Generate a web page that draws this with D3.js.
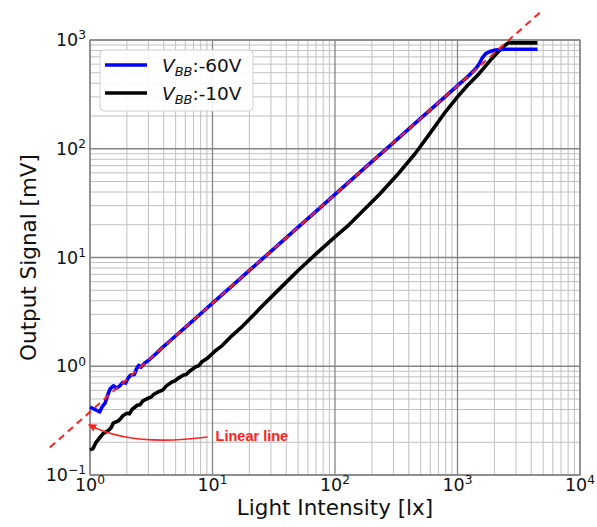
<!DOCTYPE html>
<html>
<head>
<meta charset="utf-8">
<script src="https://cdn.jsdelivr.net/npm/d3@7"></script>
<style>
  html, body { margin: 0; padding: 0; background: #fff; }
  svg { display: block; font-family: "DejaVu Sans", sans-serif; }
</style>
</head>
<body>
<svg id="chart" width="597" height="527"></svg>
<script>
// ---------- data ----------
const xTickValues = [1, 10, 100, 1000, 10000];
const xTickExponents = ["0", "1", "2", "3", "4"];
const yTickValues = [0.1, 1, 10, 100, 1000];
const yTickExponents = ["\u22121", "0", "1", "2", "3"];

const seriesNames = ["-60V", "-10V"];

const blueX = [1.0, 1.05, 1.1, 1.2, 1.25, 1.33, 1.4, 1.46, 1.55, 1.65, 1.75, 1.85, 1.95, 2.05, 2.15, 2.3, 2.4, 2.5, 2.6, 2.8, 3.0, 3.2, 3.5, 3.8, 4.2, 4.7, 5.2, 6, 7, 8, 10, 15, 20, 30, 50, 70, 100, 200, 300, 500, 700, 1000, 1200, 1400, 1500, 1600, 1700, 1850, 2000, 2200, 2500, 4500];
const blueY = [0.42, 0.41, 0.40, 0.38, 0.42, 0.46, 0.55, 0.62, 0.66, 0.63, 0.66, 0.71, 0.70, 0.78, 0.83, 0.84, 0.95, 1.02, 0.98, 1.07, 1.13, 1.21, 1.32, 1.45, 1.60, 1.79, 1.98, 2.28, 2.66, 3.04, 3.80, 5.7, 7.6, 11.4, 19, 26.6, 38, 76, 114, 190, 266, 380, 456, 540, 600, 690, 750, 785, 805, 818, 822, 822];

const blackX = [1.0, 1.06, 1.12, 1.2, 1.28, 1.4, 1.48, 1.55, 1.7, 1.78, 1.85, 2.0, 2.1, 2.2, 2.45, 2.55, 2.7, 3.0, 3.15, 3.3, 3.7, 3.9, 4.2, 4.7, 4.9, 5.2, 5.8, 6.1, 6.5, 7.3, 7.7, 8.2, 9.2, 10.5, 12, 14, 17, 20, 25, 30, 38, 50, 70, 100, 130, 170, 230, 320, 450, 600, 800, 1000, 1200, 1500, 1850, 2150, 2400, 2600, 4500];
const blackY = [0.17, 0.175, 0.20, 0.22, 0.24, 0.255, 0.27, 0.30, 0.315, 0.33, 0.35, 0.37, 0.365, 0.40, 0.44, 0.44, 0.48, 0.51, 0.52, 0.55, 0.59, 0.60, 0.66, 0.72, 0.73, 0.77, 0.83, 0.84, 0.90, 0.99, 1.01, 1.10, 1.20, 1.38, 1.55, 1.85, 2.25, 2.70, 3.5, 4.3, 5.6, 7.6, 10.8, 15.5, 20, 27, 38, 57, 90, 140, 220, 300, 380, 490, 650, 780, 880, 940, 940];

const linearX = [0.47, 4700];
const linearY = [0.179, 1786];

const annotationText = "Linear line";
const arrowTip = [0.96, 0.29];
const arrowTextPos = [10.6, 0.233];

// ---------- layout ----------
const svg = d3.select("#chart");
const L = 90, R = 580, T = 40, B = 475;

const x = d3.scaleLog().domain([1, 10000]).range([L, R]);
const y = d3.scaleLog().domain([0.1, 1000]).range([B, T]);

// grid
const gGrid = svg.append("g");
const minorX = [], minorY = [];
for (let e = 0; e < 4; e++) for (let m = 2; m <= 9; m++) minorX.push(m * Math.pow(10, e));
for (let e = -1; e < 3; e++) for (let m = 2; m <= 9; m++) minorY.push(m * Math.pow(10, e));

gGrid.selectAll(".mx").data(minorX).join("line")
  .attr("x1", d => x(d)).attr("x2", d => x(d)).attr("y1", T).attr("y2", B)
  .attr("stroke", "#c0c0c0").attr("stroke-width", 1);
gGrid.selectAll(".my").data(minorY).join("line")
  .attr("x1", L).attr("x2", R).attr("y1", d => y(d)).attr("y2", d => y(d))
  .attr("stroke", "#c0c0c0").attr("stroke-width", 1);
gGrid.selectAll(".Mx").data(xTickValues).join("line")
  .attr("x1", d => x(d)).attr("x2", d => x(d)).attr("y1", T).attr("y2", B)
  .attr("stroke", "#858585").attr("stroke-width", 1.3);
gGrid.selectAll(".My").data(yTickValues).join("line")
  .attr("x1", L).attr("x2", R).attr("y1", d => y(d)).attr("y2", d => y(d))
  .attr("stroke", "#858585").attr("stroke-width", 1.3);

// frame
svg.append("rect").attr("x", L).attr("y", T).attr("width", R - L).attr("height", B - T)
  .attr("fill", "none").attr("stroke", "#858585").attr("stroke-width", 1.3);

const line = d3.line().x(d => x(d[0])).y(d => y(d[1]));

const blackData = blackX.map((v, i) => [v, blackY[i]]);
const blueData = blueX.map((v, i) => [v, blueY[i]]);
const linData = linearX.map((v, i) => [v, linearY[i]]);

svg.append("path").datum(blackData).attr("d", line)
  .attr("fill", "none").attr("stroke", "#000").attr("stroke-width", 3.6)
  .attr("stroke-linejoin", "round");
svg.append("path").datum(blueData).attr("d", line)
  .attr("fill", "none").attr("stroke", "#0000ff").attr("stroke-width", 3.6)
  .attr("stroke-linejoin", "round");
svg.append("path").datum(linData).attr("d", line)
  .attr("fill", "none").attr("stroke", "#ff2020").attr("stroke-width", 2)
  .attr("stroke-dasharray", "7,5");

// tick labels
const fs = 17.5;
const xl = svg.append("g").attr("font-size", fs).attr("fill", "#111");
xTickValues.forEach((v, i) => {
  const t = xl.append("text").attr("x", x(v)).attr("y", 491).attr("text-anchor", "middle");
  t.append("tspan").text("10");
  t.append("tspan").attr("dy", "-0.55em").attr("font-size", "70%").text(xTickExponents[i]);
});
yTickValues.forEach((v, i) => {
  const t = xl.append("text").attr("x", 86).attr("y", y(v) + 6).attr("text-anchor", "end");
  t.append("tspan").text("10");
  t.append("tspan").attr("dy", "-0.55em").attr("font-size", "70%").text(yTickExponents[i]);
});

// axis labels
svg.append("text").attr("x", (L + R) / 2).attr("y", 515).attr("text-anchor", "middle")
  .attr("font-size", 21.5).attr("fill", "#111").text("Light Intensity [lx]");
svg.append("text").attr("transform", `translate(36,${(T + B) / 2}) rotate(-90)`)
  .attr("text-anchor", "middle").attr("font-size", 21.5).attr("fill", "#111")
  .text("Output Signal [mV]");

// legend
const lg = svg.append("g");
lg.append("rect").attr("x", 100).attr("y", 50).attr("width", 153).attr("height", 61)
  .attr("rx", 4).attr("fill", "#fff").attr("fill-opacity", 0.9)
  .attr("stroke", "#d0d0d0").attr("stroke-width", 1);
const legColors = ["#0000ff", "#000"];
seriesNames.forEach((nm, i) => {
  const yy = 65 + i * 28;
  lg.append("line").attr("x1", 105).attr("x2", 147).attr("y1", yy).attr("y2", yy)
    .attr("stroke", legColors[i]).attr("stroke-width", 3.6);
  const t = lg.append("text").attr("x", 162).attr("y", yy + 7).attr("font-size", 18.5).attr("fill", "#111");
  t.append("tspan").attr("font-style", "italic").text("V");
  t.append("tspan").attr("font-style", "italic").attr("font-size", "70%").attr("dy", "0.3em").text("BB");
  t.append("tspan").attr("dy", "-0.21em").text(":" + nm);
});

// annotation
const defs = svg.append("defs");
defs.append("marker").attr("id", "arrowhead").attr("viewBox", "0 0 10 10")
  .attr("refX", 9).attr("refY", 5).attr("markerWidth", 5).attr("markerHeight", 5)
  .attr("orient", "auto-start-reverse").attr("markerUnits", "strokeWidth")
  .append("path").attr("d", "M0,0 L10,5 L0,10 z").attr("fill", "#ff2020");

const tx = x(arrowTextPos[0]), ty = y(arrowTextPos[1]);
const ax = x(arrowTip[0]), ay = y(arrowTip[1]);
const p = d3.path();
p.moveTo(tx - 8, ty + 2);
p.quadraticCurveTo(131, ty + 12, ax + 1, ay);
svg.append("path").attr("d", p.toString()).attr("fill", "none")
  .attr("stroke", "#ff2020").attr("stroke-width", 1.6).attr("marker-end", "url(#arrowhead)");
svg.append("text").attr("x", tx).attr("y", ty + 6).attr("font-size", 14.5)
  .attr("font-weight", "bold").attr("font-family", "Liberation Sans, Arial, sans-serif")
  .attr("fill", "#ff2020").text(annotationText);
</script>
</body>
</html>
